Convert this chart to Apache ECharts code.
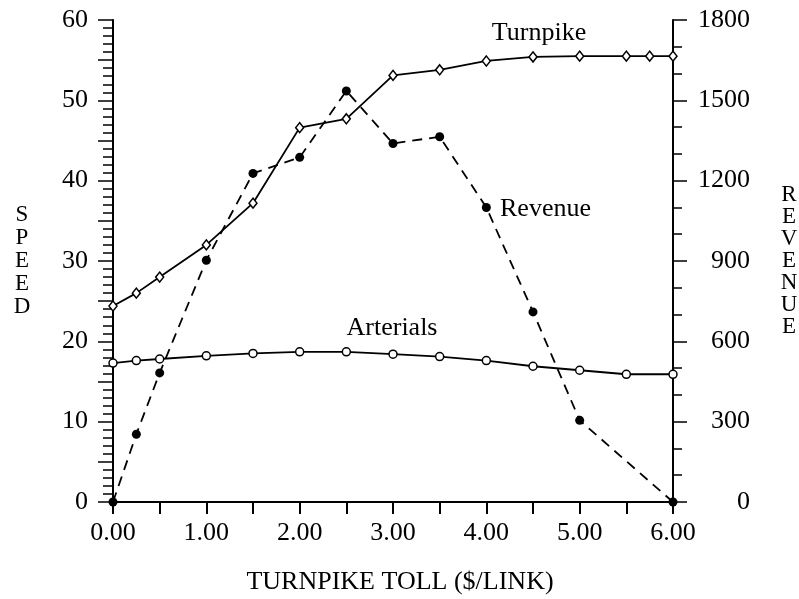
<!DOCTYPE html>
<html><head><meta charset="utf-8">
<script src="https://cdn.jsdelivr.net/npm/echarts@6/dist/echarts.min.js"></script>
<style>html,body{margin:0;padding:0;background:#fff}#c{width:799px;height:599px}</style>
</head><body><div id="c"></div>
<script>
// Data
const tollTurnpike = [0, 0.25, 0.5, 1, 1.5, 2, 2.5, 3, 3.5, 4, 4.5, 5, 5.5, 5.75, 6];
const speedTurnpike = [24.4, 26.0, 28.0, 32.0, 37.2, 46.6, 47.7, 53.1, 53.8, 54.9, 55.4, 55.5, 55.5, 55.5, 55.5];
const tollArterials = [0, 0.25, 0.5, 1, 1.5, 2, 2.5, 3, 3.5, 4, 4.5, 5, 5.5, 6];
const speedArterials = [17.3, 17.6, 17.8, 18.2, 18.5, 18.7, 18.7, 18.4, 18.1, 17.6, 16.9, 16.4, 15.9, 15.9];
const tollRevenue = [0, 0.25, 0.5, 1, 1.5, 2, 2.5, 3, 3.5, 4, 4.5, 5, 6];
const revenue = [0, 253, 482, 903, 1227, 1287, 1535, 1339, 1364, 1100, 710, 305, 0];

const seriesNames = ['Turnpike', 'Arterials', 'Revenue'];
const xTitle = 'TURNPIKE TOLL ($/LINK)';
const yLeftTitle = 'SPEED';
const yRightTitle = 'REVENUE';

const FONT = 'Liberation Serif';
const zip = (xs, ys) => xs.map((x, i) => [x, ys[i]]);

const chart = echarts.init(document.getElementById('c'), null, {renderer: 'canvas'});
const axisLineStyle = {color: '#000', width: 2};
chart.setOption({
  backgroundColor: '#fff',
  animation: false,
  grid: {left: 113, right: 126, top: 20, bottom: 97, containLabel: false},
  xAxis: {
    type: 'value', min: 0, max: 6, interval: 0.5,
    axisLine: {show: true, onZero: false, lineStyle: axisLineStyle},
    axisTick: {show: true, inside: false, length: 12, lineStyle: {color: '#000', width: 2}},
    splitLine: {show: false},
    axisLabel: {
      margin: 18, color: '#000', fontFamily: FONT, fontSize: 26,
      formatter: v => (Math.abs(v - Math.round(v)) < 1e-9 ? v.toFixed(2) : '')
    }
  },
  yAxis: [
    {
      type: 'value', position: 'left', min: 0, max: 60, interval: 5,
      axisLine: {show: true, onZero: false, lineStyle: axisLineStyle},
      axisTick: {show: true, length: 15, lineStyle: {color: '#000', width: 1.5}},
      minorTick: {show: true, splitNumber: 5, length: 10, lineStyle: {color: '#000', width: 1.5}},
      splitLine: {show: false}, minorSplitLine: {show: false},
      axisLabel: {
        margin: 25, color: '#000', fontFamily: FONT, fontSize: 26,
        formatter: v => (v % 10 === 0 ? String(v) : '')
      }
    },
    {
      type: 'value', position: 'right', min: 0, max: 1800, interval: 300,
      axisLine: {show: true, onZero: false, lineStyle: axisLineStyle},
      axisTick: {show: true, length: 14, lineStyle: {color: '#000', width: 1.5}},
      minorTick: {show: true, splitNumber: 3, length: 9, lineStyle: {color: '#000', width: 1.5}},
      splitLine: {show: false}, minorSplitLine: {show: false},
      axisLabel: {margin: 77, align: 'right', color: '#000', fontFamily: FONT, fontSize: 26,
        formatter: v => String(v)}
    }
  ],
  series: [
    {
      name: seriesNames[2], type: 'line', yAxisIndex: 1, clip: false, z: 2,
      data: zip(tollRevenue, revenue),
      symbol: 'circle', symbolSize: 9,
      lineStyle: {color: '#000', width: 1.8, type: [10, 7]},
      itemStyle: {color: '#000', borderColor: '#000', borderWidth: 0}
    },
    {
      name: seriesNames[0], type: 'line', yAxisIndex: 0, clip: false, z: 3,
      data: zip(tollTurnpike, speedTurnpike),
      symbol: 'diamond', symbolSize: [8, 10],
      lineStyle: {color: '#000', width: 1.8},
      itemStyle: {color: '#fff', borderColor: '#000', borderWidth: 1.5}
    },
    {
      name: seriesNames[1], type: 'line', yAxisIndex: 0, clip: false, z: 3,
      data: zip(tollArterials, speedArterials),
      symbol: 'circle', symbolSize: 8,
      lineStyle: {color: '#000', width: 1.8},
      itemStyle: {color: '#fff', borderColor: '#000', borderWidth: 1.5}
    }
  ],
  graphic: [
    {type: 'text', x: 400, y: 582,
     style: {text: xTitle, fontFamily: FONT, fontSize: 26, fill: '#000', align: 'center', verticalAlign: 'middle'}},
    {type: 'text', x: 22, y: 261,
     style: {text: yLeftTitle.split('').join('\n'), fontFamily: FONT, fontSize: 23, lineHeight: 23, fill: '#000', align: 'center', verticalAlign: 'middle'}},
    {type: 'text', x: 789, y: 261,
     style: {text: yRightTitle.split('').join('\n'), fontFamily: FONT, fontSize: 23, lineHeight: 22, fill: '#000', align: 'center', verticalAlign: 'middle'}},
    {type: 'text', x: 539, y: 33,
     style: {text: seriesNames[0], fontFamily: FONT, fontSize: 26, fill: '#000', align: 'center', verticalAlign: 'middle'}},
    {type: 'text', x: 500, y: 209,
     style: {text: seriesNames[2], fontFamily: FONT, fontSize: 26, fill: '#000', align: 'left', verticalAlign: 'middle'}},
    {type: 'text', x: 392, y: 328,
     style: {text: seriesNames[1], fontFamily: FONT, fontSize: 26, fill: '#000', align: 'center', verticalAlign: 'middle'}}
  ]
});
</script>
</body></html>
